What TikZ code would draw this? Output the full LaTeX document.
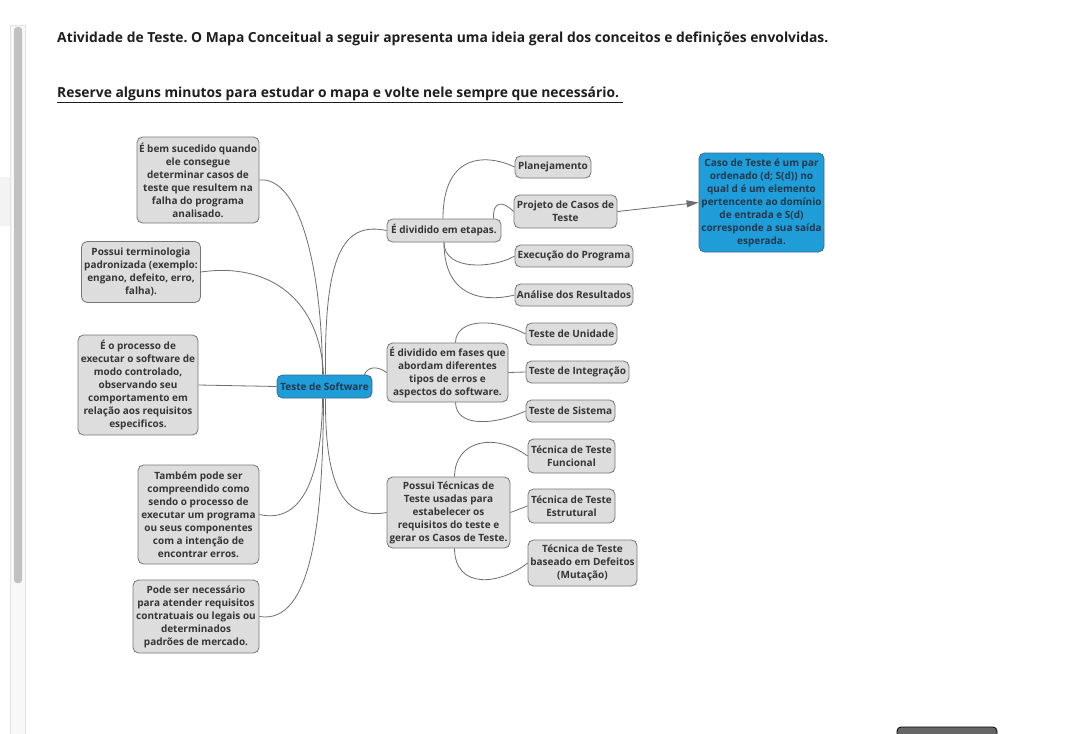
\documentclass[tikz,border=0pt]{standalone}
\usepackage{fontspec}
\setmainfont{Open Sans}
\usetikzlibrary{arrows.meta}
\frenchspacing
\definecolor{gfill}{HTML}{DDDDDD}
\definecolor{gbord}{HTML}{777777}
\definecolor{txtc}{HTML}{353535}
\definecolor{bfill}{HTML}{1F9DD9}
\definecolor{bbord}{HTML}{3D6A8A}
\definecolor{btxt}{HTML}{22374A}
\definecolor{connc}{HTML}{6E6E6E}
\definecolor{titlec}{HTML}{1E1E1E}
\definecolor{stripc}{HTML}{F3F3F3}
\definecolor{trackc}{HTML}{F8F8F8}
\definecolor{trackb}{HTML}{E2E2E2}
\definecolor{thumbc}{HTML}{C1C1C1}
\definecolor{buttonc}{HTML}{666666}
\tikzset{
  gbox/.style={draw=gbord, fill=gfill, rounded corners=5.5pt, line width=0.8pt,
    align=center, inner sep=1pt, text=txtc,
    font=\fontsize{10}{13}\selectfont\bfseries},
  bbox/.style={gbox, fill=bfill, draw=bbord, text=btxt},
  conn/.style={draw=connc, line width=0.8pt},
  headtext/.style={anchor=base west, inner sep=0pt, text=titlec,
    font=\frenchspacing\fontsize{13.85}{17}\selectfont\bfseries},
}
\begin{document}
\begin{tikzpicture}[x=1pt,y=-1pt]
\useasboundingbox (0,0) rectangle (1085,734);
\fill[white] (0,0) rectangle (1085,734);
% left page strip and scrollbar
\fill[stripc] (0,177) rectangle (10,226);
\filldraw[fill=trackc, draw=trackb, line width=0.8pt] (10,25) rectangle (25,740);
\fill[thumbc, rounded corners=3pt] (14,27) rectangle (22,583);
% bottom right button
\filldraw[fill=buttonc, draw=black, line width=0.8pt, rounded corners=4pt] (897,727) rectangle (997,745);

% header
\node[headtext] (title) at (57,42)
  {Atividade de Teste. O Mapa Conceitual a seguir apresenta uma ideia geral dos conceitos e definições envolvidas.};
\node[headtext] (reserve) at (57,97)
  {\underline{Reserve alguns minutos para estudar o mapa e volte nele sempre que necessário.\ }};

% left nodes
\node[gbox, minimum width=122pt, minimum height=86pt] (n1) at (198,180)
  {É bem sucedido quando\\ele consegue\\determinar casos de\\teste que resultem na\\falha do programa\\analisado.};
\node[gbox, minimum width=119pt, minimum height=61pt] (n2) at (141,272)
  {Possui terminologia\\padronizada (exemplo:\\engano, defeito, erro,\\falha).};
\node[gbox, minimum width=120pt, minimum height=100pt] (n3) at (138,385)
  {É o processo de\\executar o software de\\modo controlado,\\observando seu\\comportamento em\\relação aos requisitos\\especificos.};
\node[gbox, minimum width=121pt, minimum height=99pt] (n4) at (198.5,514.5)
  {Também pode ser\\compreendido como\\sendo o processo de\\executar um programa\\ou seus componentes\\com a intenção de\\encontrar erros.};
\node[gbox, minimum width=126pt, minimum height=73pt] (n5) at (196,616.5)
  {Pode ser necessário\\para atender requisitos\\contratuais ou legais ou\\determinados\\padrões de mercado.};

% centre
\node[bbox, minimum width=95pt, minimum height=23pt] (soft) at (324.5,386.5) {Teste de Software};

% middle
\node[gbox, minimum width=114pt, minimum height=23pt] (etapas) at (444,230.5) {É dividido em etapas.};
\node[gbox, minimum width=121pt, minimum height=59pt] (fases) at (447.5,372.5)
  {É dividido em fases que\\abordam diferentes\\tipos de erros e\\aspectos do software.};
\node[gbox, minimum width=123pt, minimum height=71pt] (tecn) at (448.5,512.5)
  {Possui Técnicas de\\Teste usadas para\\estabelecer os\\requisitos do teste e\\gerar os Casos de Teste.};

% right
\node[gbox, minimum width=76pt, minimum height=22pt] (plan) at (553,167) {Planejamento};
\node[gbox, minimum width=103pt, minimum height=33pt] (proj) at (565.5,211.5) {Projeto de Casos de\\Teste};
\node[gbox, minimum width=118pt, minimum height=22pt] (exec) at (574,256) {Execução do Programa};
\node[gbox, minimum width=118pt, minimum height=22pt] (anal) at (574,295) {Análise dos Resultados};
\node[gbox, minimum width=91pt, minimum height=22pt] (unid) at (571.5,334) {Teste de Unidade};
\node[gbox, minimum width=103pt, minimum height=22pt] (integ) at (577.5,372) {Teste de Integração};
\node[gbox, minimum width=89pt, minimum height=22pt] (sist) at (570.5,411) {Teste de Sistema};
\node[gbox, minimum width=87pt, minimum height=34pt] (func) at (571.5,456) {Técnica de Teste\\Funcional};
\node[gbox, minimum width=87pt, minimum height=34pt] (estr) at (571.5,506) {Técnica de Teste\\Estrutural};
\node[gbox, minimum width=109pt, minimum height=46pt] (mut) at (582.5,563) {Técnica de Teste\\baseado em Defeitos\\(Mutação)};
\node[bbox, minimum width=125pt, minimum height=99pt] (caso) at (761.5,202.5)
  {Caso de Teste é um par\\ordenado (d; S(d)) no\\qual d é um elemento\\pertencente ao domínio\\de entrada e S(d)\\corresponde a sua saída\\esperada.};

% connectors (left)
\draw[conn] (n1.east) .. controls (300,176) and (322,270) .. ([xshift=-2pt]soft.north);
\draw[conn] (n2.east) .. controls (270,262) and (320,300) .. ([xshift=-1pt]soft.north);
\draw[conn] (n3.east) -- (soft.west);
\draw[conn] (n4.east) .. controls (305,525) and (322,470) .. ([xshift=-2pt]soft.south);
\draw[conn] (n5.east) .. controls (312,625) and (323,520) .. ([xshift=-1pt]soft.south);
% connectors (centre to middle)
\draw[conn] ([xshift=1pt]soft.north) .. controls (324,250) and (345,222) .. (etapas.west);
\draw[conn] ([xshift=-8pt]soft.north east) .. controls (368,366) and (378,366) .. (fases.west);
\draw[conn] ([xshift=1pt]soft.south) .. controls (325,490) and (345,520) .. (tecn.west);
% etapas
\draw[conn] ([xshift=-1pt]etapas.north) .. controls (443,150) and (490,155) .. (plan.west);
\draw[conn] ([xshift=-8pt]etapas.north east) .. controls (493,200) and (503,201) .. (proj.west);
\draw[conn] (etapas.south) .. controls (444,272) and (495,268) .. (exec.west);
\draw[conn] (etapas.south) .. controls (444,305) and (495,300) .. (anal.west);
% fases
\draw[conn] ([xshift=8pt]fases.north) .. controls (456,318) and (495,318) .. (unid.west);
\draw[conn] (fases.east) -- (integ.west);
\draw[conn] ([xshift=8pt]fases.south) .. controls (456,428) and (495,425) .. (sist.west);
% tecnicas
\draw[conn] ([xshift=6pt]tecn.north) .. controls (455,440) and (495,432) .. (func.west);
\draw[conn] (tecn.east) -- (estr.west);
\draw[conn] ([xshift=6pt]tecn.south) .. controls (455,590) and (500,585) .. (mut.west);
% arrow
\draw[conn, -{Triangle[length=12pt,width=7pt]}, fill=connc] (proj.east) -- (caso.west);
\end{tikzpicture}
\end{document}
